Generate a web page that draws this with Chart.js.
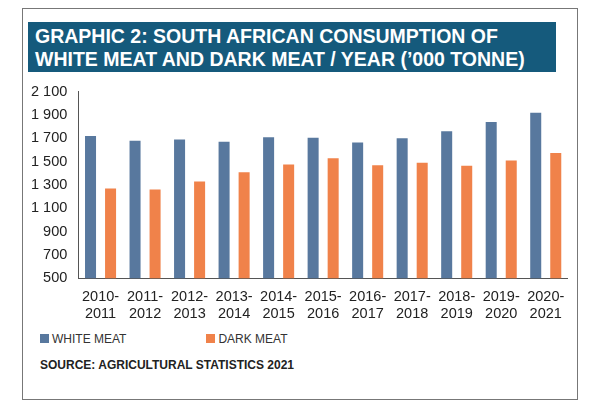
<!DOCTYPE html>
<html><head><meta charset="utf-8">
<script src="https://cdn.jsdelivr.net/npm/chart.js@4"></script>
<style>
body{margin:0;background:#fff;font-family:"Liberation Sans",Arial,sans-serif;}
#frame{position:absolute;left:22px;top:8px;width:554px;height:390px;border:1px solid #777;}
#title{position:absolute;left:28px;top:22px;width:528px;height:50px;background:#155a7c;color:#fff;font-weight:bold;font-size:19.5px;line-height:23px;padding:3px 0 0 7px;box-sizing:border-box;white-space:nowrap;}
#wrap{position:absolute;left:28px;top:80px;width:540px;height:245px;}
#legend{position:absolute;left:40px;top:332px;font-size:12px;color:#333;}
#legend span{display:inline-block;width:9px;height:9px;margin-right:3px;}
#source{position:absolute;left:40px;top:358px;font-size:12px;font-weight:bold;color:#222;}
</style></head><body>
<div id="frame"></div>
<div id="title">GRAPHIC 2: SOUTH AFRICAN CONSUMPTION OF<br>WHITE MEAT AND DARK MEAT / YEAR (’000 TONNE)</div>
<div id="wrap"><canvas id="c"></canvas></div>
<div id="legend"><span style="background:#58789e"></span>WHITE MEAT<span style="background:#f0824a;margin-left:80px"></span>DARK MEAT</div>
<div id="source">SOURCE: AGRICULTURAL STATISTICS 2021</div>
<script>
const years = [["2010-","2011"],["2011-","2012"],["2012-","2013"],["2013-","2014"],["2014-","2015"],["2015-","2016"],["2016-","2017"],["2017-","2018"],["2018-","2019"],["2019-","2020"],["2020-","2021"]];
const whiteMeat = [1720,1680,1690,1670,1710,1705,1665,1700,1760,1840,1920];
const darkMeat = [1270,1260,1330,1410,1475,1530,1470,1490,1465,1510,1575];

new Chart(document.getElementById("c"), {
  type: "bar",
  data: {
    labels: years,
    datasets: [
      {label: "WHITE MEAT", data: whiteMeat, backgroundColor: "#58789e", barPercentage: 0.55, categoryPercentage: 0.9},
      {label: "DARK MEAT", data: darkMeat, backgroundColor: "#f0824a", barPercentage: 0.55, categoryPercentage: 0.9}
    ]
  },
  options: {
    responsive: true, maintainAspectRatio: false, animation: false,
    plugins: {legend: {display: false}, tooltip: {enabled: false}},
    scales: {
      x: {grid: {display: false}, border: {color: "#555"},
          ticks: {color: "#222", font: {size: 14.5, family: "Liberation Sans"}, maxRotation: 0, padding: 2}},
      y: {min: 500, max: 2100, grid: {display: false}, border: {color: "#555"},
          ticks: {stepSize: 200, color: "#222", font: {size: 14.5, family: "Liberation Sans"},
                  callback: v => v >= 1000 ? String(v).replace(/(\d)(\d{3})$/, "$1 $2") : v}}
    }
  }
});
</script>
</body></html>
